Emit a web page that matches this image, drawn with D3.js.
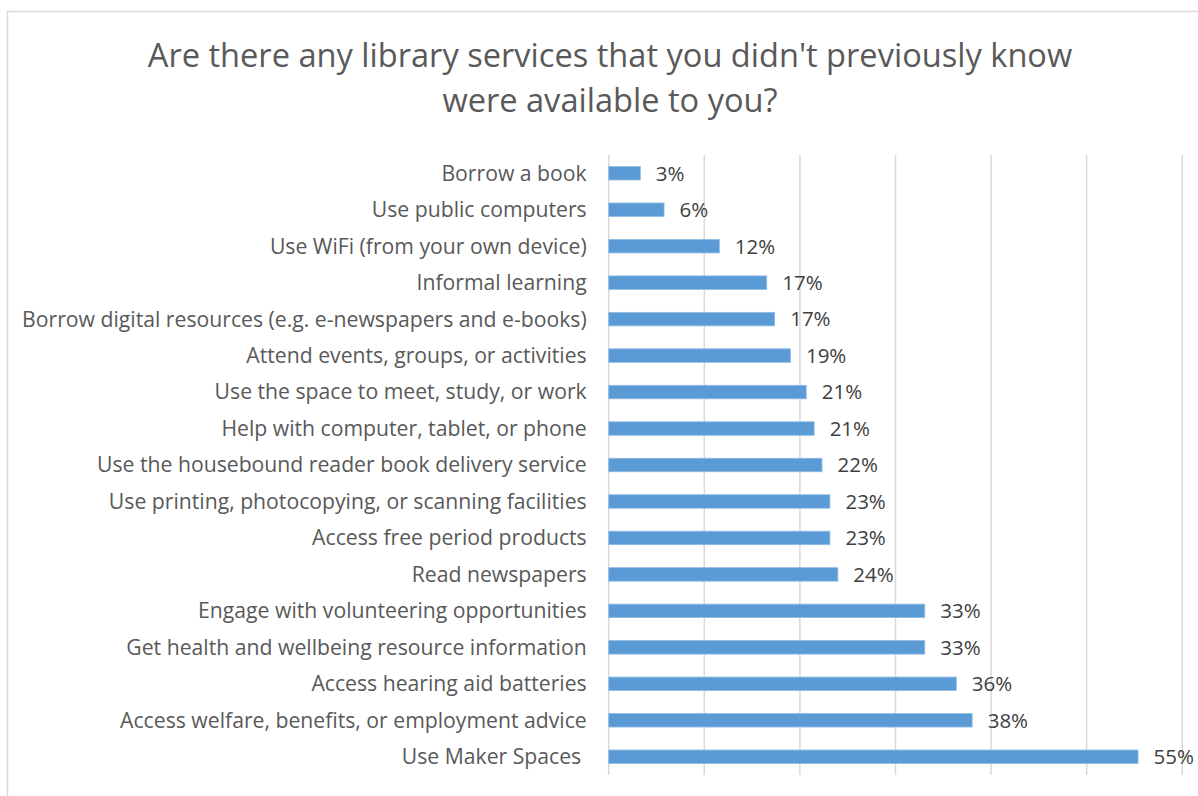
<!DOCTYPE html>
<html>
<head>
<meta charset="utf-8">
<script src="https://cdn.jsdelivr.net/npm/d3@7/dist/d3.min.js"></script>
<style>
  html, body { margin: 0; padding: 0; background: #fff; }
  svg { display: block; }
  text { font-family: "Open Sans", Lato, sans-serif; }
</style>
</head>
<body>
<svg id="chart" width="1198" height="796"></svg>
<script>
// Survey responses: share of respondents who didn't know each service existed
const categories = [
  "Borrow a book",
  "Use public computers",
  "Use WiFi (from your own device)",
  "Informal learning",
  "Borrow digital resources (e.g. e-newspapers and e-books)",
  "Attend events, groups, or activities",
  "Use the space to meet, study, or work",
  "Help with computer, tablet, or phone",
  "Use the housebound reader book delivery service",
  "Use printing, photocopying, or scanning facilities",
  "Access free period products",
  "Read newspapers",
  "Engage with volunteering opportunities",
  "Get health and wellbeing resource information",
  "Access hearing aid batteries",
  "Access welfare, benefits, or employment advice",
  "Use Maker Spaces "
];
const values = [3.31, 5.79, 11.57, 16.53, 17.36, 19.01, 20.66, 21.49, 22.31, 23.14, 23.14, 23.97, 33.06, 33.06, 36.36, 38.02, 55.37];
const xTicks = [0, 10, 20, 30, 40, 50, 60];
const titleLines = ["Are there any library services that you didn't previously know", "were available to you?"];

const data = categories.map((c, i) => ({ category: c, value: values[i] }));

const svg = d3.select("#chart");
const W = 1198, H = 796;
const margin = { top: 155, right: 15.7, bottom: 21, left: 608.7 };

// chart frame
svg.append("rect")
  .attr("x", 7.5).attr("y", 11.5)
  .attr("width", W).attr("height", H)
  .attr("fill", "#fff")
  .attr("stroke", "#d9d9d9")
  .attr("stroke-width", 1.5);

// title
svg.append("text")
  .attr("x", 610)
  .attr("text-anchor", "middle")
  .attr("fill", "#595959")
  .style("font-size", "32.6px")
  .selectAll("tspan")
  .data(titleLines)
  .join("tspan")
  .attr("x", 610)
  .attr("y", (d, i) => 67 + i * 45)
  .text(d => d);

const x = d3.scaleLinear()
  .domain([0, 60])
  .range([margin.left, W - margin.right]);

const y = d3.scaleBand()
  .domain(categories)
  .range([margin.top, H - margin.bottom])
  .paddingInner(0.63)
  .paddingOuter(0.315);

// vertical gridlines
svg.append("g")
  .selectAll("line")
  .data(xTicks)
  .join("line")
  .attr("x1", d => x(d)).attr("x2", d => x(d))
  .attr("y1", margin.top).attr("y2", H - margin.bottom)
  .attr("stroke", "#d9d9d9")
  .attr("stroke-width", 1.5);

// category axis
const yAxis = d3.axisLeft(y).tickSize(0).tickPadding(22);
const yg = svg.append("g")
  .attr("transform", `translate(${margin.left},0)`)
  .call(yAxis);
yg.select(".domain").remove();
yg.selectAll("text")
  .attr("fill", "#595959")
  .style("font-size", "21.2px")
  .style("white-space", "pre")
  .attr("dy", "0.35em");

// bars
svg.append("g")
  .selectAll("rect")
  .data(data)
  .join("rect")
  .attr("x", x(0))
  .attr("y", d => y(d.category))
  .attr("width", d => x(d.value) - x(0))
  .attr("height", y.bandwidth())
  .attr("fill", "#5b9bd5")
  .attr("stroke", "#8fbbe5")
  .attr("stroke-width", 0.8);

// value labels
svg.append("g")
  .selectAll("text")
  .data(data)
  .join("text")
  .attr("x", d => x(d.value) + 15.5)
  .attr("y", d => y(d.category) + y.bandwidth() / 2)
  .attr("dy", "0.36em")
  .attr("fill", "#404040")
  .style("font-size", "20.5px")
  .text(d => d3.format(".0f")(d.value) + "%");
</script>
</body>
</html>
